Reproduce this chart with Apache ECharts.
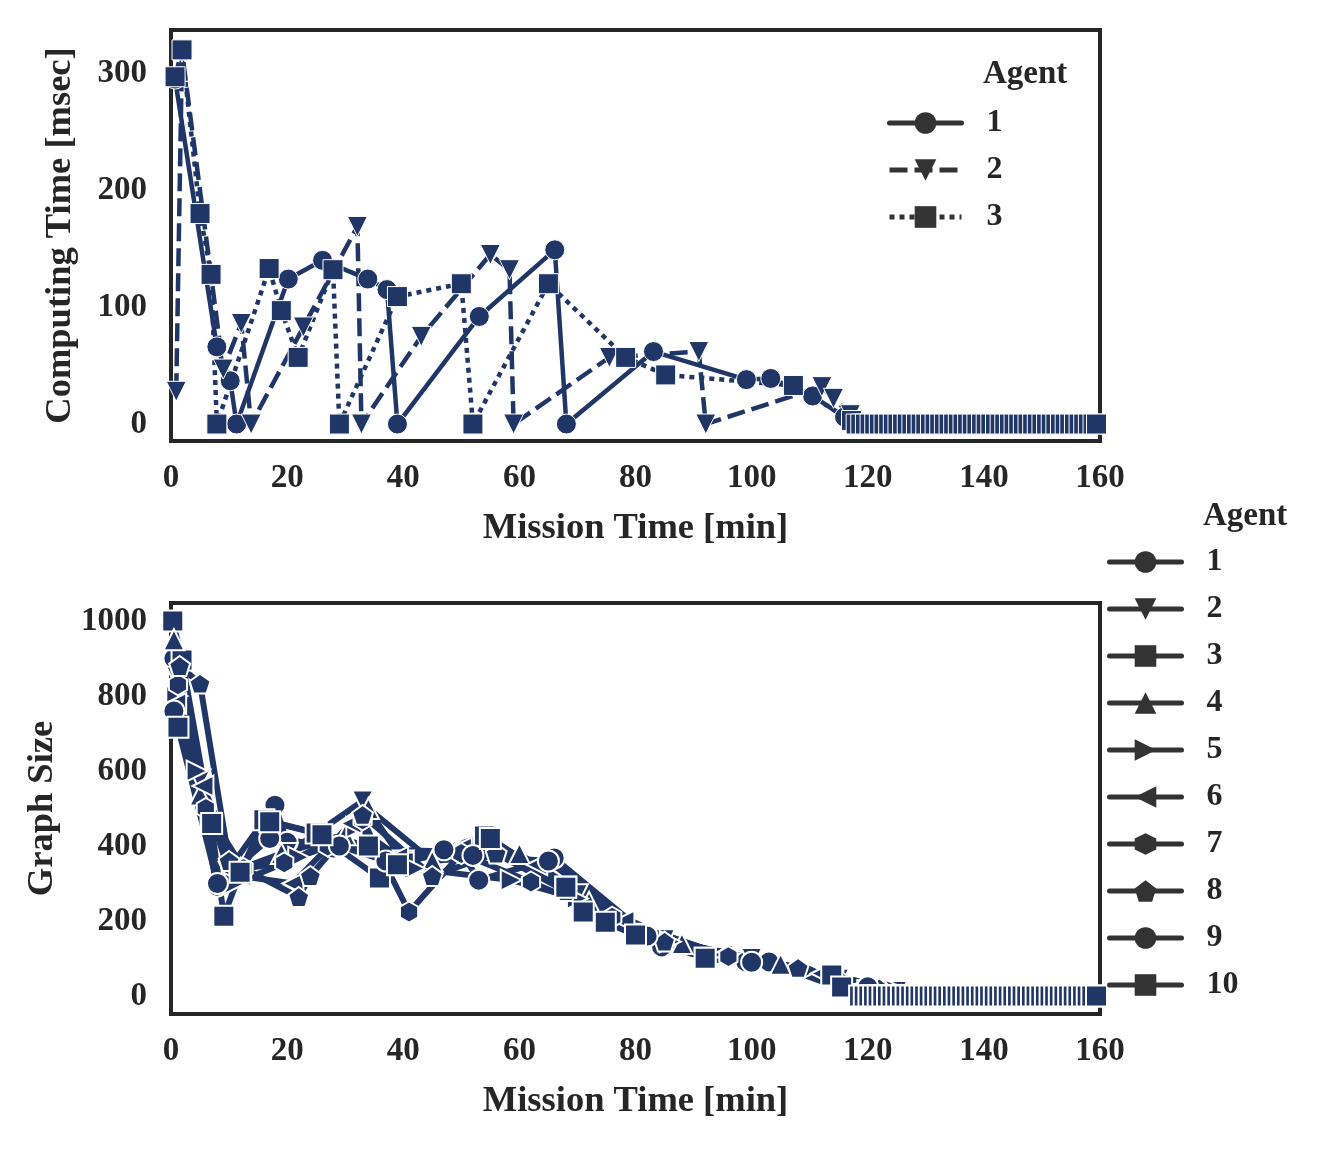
<!DOCTYPE html>
<html><head><meta charset="utf-8">
<script src="https://cdn.jsdelivr.net/npm/echarts@6/dist/echarts.min.js"></script>
<style>html,body{margin:0;padding:0;background:#fff}#c{width:1331px;height:1149px}</style>
</head><body><div id="c"></div>
<script>
// ---------- tick labels ----------
const xTickValues = [0, 20, 40, 60, 80, 100, 120, 140, 160];
const topYTickValues = [0, 100, 200, 300];
const bottomYTickValues = [0, 200, 400, 600, 800, 1000];

// ---------- top chart: computing time [msec] per agent ----------
const topAgents = ['1', '2', '3'];
const top1X = [0.7, 7.9, 10.2, 11.3, 20.2, 26.1, 33.9, 37.2, 39.0, 53.1, 66.1, 68.1, 83.1, 99.1, 103.3, 110.5, 116.0];
const top1Y = [295, 66, 37, 0, 124, 140, 124, 115, 0, 92, 149, 0, 62, 38, 39, 24, 6];
const top2X = [0.9, 1.9, 9.0, 12.1, 13.8, 22.8, 32.1, 32.8, 43.1, 55.0, 58.3, 59.0, 75.5, 90.9, 92.1, 112.1, 114.1, 117.0];
const top2Y = [28, 318, 47, 86, 0, 83, 169, 0, 75, 145, 132, 0, 57, 62, 0, 32, 22, 8];
const top3X = [0.7, 1.9, 5.0, 6.9, 7.9, 16.9, 19.0, 21.9, 27.9, 29.0, 39.0, 50.0, 52.0, 65.0, 78.3, 85.2, 107.2, 117.2];
const top3Y = [297, 320, 180, 128, 0, 133, 97, 57, 132, 0, 109, 120, 0, 120, 57, 42, 33, 3];
// idle tail (value 0) sample times
const top1TailX = [118.2,119.0,119.8,120.6,121.4,122.2,123.0,123.8,124.6,125.4,126.2,127.0,127.8,128.6,129.4,130.2,131.0,131.8,132.6,133.4,134.2,135.0,135.8,136.6,137.4,138.2,139.0,139.8,140.6,141.4,142.2];
const top2TailX = [118.5,119.3,120.1,120.9,121.7,122.5,123.3,124.1,124.9,125.7,126.5,127.3,128.1,128.9,129.7,130.5,131.3,132.1,132.9,133.7,134.5,135.3,136.1,136.9,137.7,138.5,139.3,140.1,140.9,141.7,142.5,143.3];
const top3TailX = [118.0,118.8,119.6,120.4,121.2,122.0,122.8,123.6,124.4,125.2,126.0,126.8,127.6,128.4,129.2,130.0,130.8,131.6,132.4,133.2,134.0,134.8,135.6,136.4,137.2,138.0,138.8,139.6,140.4,141.2,142.0,142.8,143.6,144.4,145.2,146.0,146.8,147.6,148.4,149.2,150.0,150.8,151.6,152.4,153.2,154.0,154.8,155.6,156.4,157.2,158.0,158.8,159.4];
const tailValue = 0;

// ---------- bottom chart: graph size per agent ----------
const bottomAgents = ['1','2','3','4','5','6','7','8','9','10'];
const b1X = [0.5, 7.9, 17.9, 20.0, 28.0, 50.0, 53.0, 66.0, 84.5, 99.0, 103.0, 118.0];
const b1Y = [900, 293, 509, 410, 395, 384, 309, 368, 131, 91, 91, 5];
const b2X = [1.0, 5.0, 10.0, 20.0, 33.0, 40.0, 55.0, 70.0, 85.0, 100.0, 115.0, 125.0];
const b2Y = [850, 576, 330, 380, 520, 360, 400, 270, 150, 100, 45, 12];
const b3X = [0.3, 1.9, 6.9, 9.1, 11.9, 16.0, 25.0, 35.9, 40.0, 54.0, 68.0, 80.0, 92.0, 114.0, 120.0];
const b3Y = [1000, 896, 461, 213, 328, 470, 435, 315, 355, 427, 291, 165, 101, 53, 15];
const b4X = [0.5, 5.0, 12.0, 19.0, 30.0, 34.0, 45.0, 60.0, 72.0, 88.0, 105.0, 121.0];
const b4Y = [950, 536, 340, 380, 430, 500, 360, 380, 250, 140, 85, 28];
const b5X = [1.0, 4.5, 11.0, 22.0, 32.0, 42.0, 58.6, 70.0, 86.0, 110.0, 125.0];
const b5Y = [800, 600, 300, 370, 450, 340, 309, 260, 145, 70, 15];
const b6X = [0.8, 5.5, 12.0, 21.0, 31.0, 39.0, 50.0, 63.0, 78.0, 95.0, 112.0, 128.0];
const b6Y = [780, 560, 320, 300, 460, 370, 395, 350, 200, 110, 60, 8];
const b7X = [1.2, 6.0, 12.5, 19.5, 27.0, 33.0, 41.0, 50.0, 62.0, 76.0, 96.0, 115.0];
const b7Y = [830, 500, 340, 355, 400, 470, 224, 380, 304, 210, 105, 40];
const b8X = [1.5, 5.0, 10.0, 22.0, 24.0, 33.0, 45.0, 56.0, 68.0, 85.0, 108.0, 122.0];
const b8Y = [880, 833, 360, 264, 320, 483, 320, 380, 280, 145, 75, 20];
const b9X = [0.5, 8.0, 17.0, 29.0, 37.0, 47.0, 52.0, 65.0, 82.0, 100.0, 120.0];
const b9Y = [760, 300, 420, 400, 360, 390, 375, 360, 160, 90, 25];
const b10X = [1.2, 7.0, 11.9, 17.0, 26.0, 34.0, 39.0, 55.0, 68.0, 71.0, 74.8, 80.0, 92.0, 113.8, 115.5];
const b10Y = [717, 460, 330, 465, 430, 400, 350, 420, 290, 224, 197, 163, 101, 56, 24];
const bottomTailX = [118.6,119.4,120.2,121.0,121.8,122.6,123.4,124.2,125.0,125.8,126.6,127.4,128.2,129.0,129.8,130.6,131.4,132.2,133.0,133.8,134.6,135.4,136.2,137.0,137.8,138.6,139.4,140.2,141.0,141.8,142.6,143.4,144.2,145.0,145.8,146.6,147.4,148.2,149.0,149.8,150.6,151.4,152.2,153.0,153.8,154.6,155.4,156.2,157.0,157.8,158.6,159.4];
const bottomTailEnd = [135.5,135.5,135.5,135.5,135.5,135.5,135.5,135.5,135.5,159.4];

// ---------- styling ----------
const NAVY = '#1f3667';
const FONT = 'Liberation Serif';
const INK = '#262626';
const hexagon = 'path://M0,-100 L86.6,-50 L86.6,50 L0,100 L-86.6,50 L-86.6,-50 Z';
const pentagon = 'path://M0,-100 L95.1,-30.9 L58.8,80.9 L-58.8,80.9 L-95.1,-30.9 Z';

function pairs(xs, ys) { return xs.map((x, i) => [x, ys[i]]); }
function withTail(xs, ys, tailXs, endX) {
  const last = xs[xs.length - 1];
  return pairs(xs, ys).concat(tailXs.filter(t => t > last && t <= endX).map(t => [t, tailValue]));
}

const topData = [
  withTail(top1X, top1Y, top1TailX, 999),
  withTail(top2X, top2Y, top2TailX, 999),
  withTail(top3X, top3Y, top3TailX, 999)
];
const topSym = [['circle', 0], ['triangle', 180], ['rect', 0]];
const topDash = ['solid', [18, 7], [5, 5]];

const bXs = [b1X,b2X,b3X,b4X,b5X,b6X,b7X,b8X,b9X,b10X];
const bYs = [b1Y,b2Y,b3Y,b4Y,b5Y,b6Y,b7Y,b8Y,b9Y,b10Y];
const bSym = [['circle',0],['triangle',180],['rect',0],['triangle',0],['triangle',-90],['triangle',90],[hexagon,0],[pentagon,0],['circle',0],['rect',0]];

const series = [];
topAgents.forEach((a, i) => {
  series.push({
    name: 't' + a, type: 'line', xAxisIndex: 0, yAxisIndex: 0,
    data: topData[i], symbol: topSym[i][0], symbolRotate: topSym[i][1], symbolSize: 20,
    symbolKeepAspect: true, showAllSymbol: true,
    lineStyle: { color: NAVY, width: 4.5, type: topDash[i], join: 'round' },
    itemStyle: { color: NAVY, borderColor: '#fff', borderWidth: 1 },
    emphasis: { disabled: true }
  });
});
bottomAgents.forEach((a, i) => {
  series.push({
    name: 'b' + a, type: 'line', xAxisIndex: 1, yAxisIndex: 1,
    data: withTail(bXs[i], bYs[i], bottomTailX, bottomTailEnd[i]),
    symbol: bSym[i][0], symbolRotate: bSym[i][1], symbolSize: 21,
    symbolKeepAspect: true, showAllSymbol: true,
    lineStyle: { color: NAVY, width: 6, type: 'solid', join: 'round' },
    itemStyle: { color: NAVY, borderColor: '#fff', borderWidth: 2 },
    emphasis: { disabled: true }
  });
});

const tickLabel = { fontFamily: FONT, fontWeight: 'bold', fontSize: 33, color: INK, formatter: v => String(v) };
const axisName = { fontFamily: FONT, fontWeight: 'bold', fontSize: 36.5, color: INK };

function xAxis(gridIndex) {
  return {
    type: 'value', gridIndex, min: 0, max: 160, interval: 20,
    axisLine: { show: false }, axisTick: { show: false }, splitLine: { show: false },
    axisLabel: Object.assign({ margin: 21, customValues: xTickValues }, tickLabel),
    name: 'Mission Time [min]', nameLocation: 'middle', nameGap: 69, nameTextStyle: axisName
  };
}
function yAxis(gridIndex, min, max, ticks, name, gap) {
  return {
    type: 'value', gridIndex, min, max,
    axisLine: { show: false }, axisTick: { show: false }, splitLine: { show: false },
    axisLabel: Object.assign({ margin: 24, customValues: ticks }, tickLabel),
    name, nameLocation: 'middle', nameGap: gap, nameRotate: 90, nameTextStyle: axisName
  };
}

function legendBase(names, left, top) {
  return {
    orient: 'vertical', left, top, itemWidth: 72, itemHeight: 27, itemGap: 15,
    data: names,
    formatter: n => n.slice(1),
    selectedMode: false,
    textStyle: { fontFamily: FONT, fontWeight: 'bold', fontSize: 32, color: INK, padding: [0, 0, 0, 20] },
    itemStyle: { color: '#333', borderWidth: 0 },
    lineStyle: { color: '#333', width: 5 }
  };
}

const option = {
  animation: false,
  backgroundColor: '#fff',
  grid: [
    { left: 171, top: 30, width: 929, height: 411, show: true, borderColor: INK, borderWidth: 4, backgroundColor: 'transparent' },
    { left: 171, top: 603, width: 929, height: 411, show: true, borderColor: INK, borderWidth: 4, backgroundColor: 'transparent' }
  ],
  xAxis: [xAxis(0), xAxis(1)],
  yAxis: [
    yAxis(0, -14.5, 337, topYTickValues, 'Computing Time [msec]', 92),
    yAxis(1, -48, 1048, bottomYTickValues, 'Graph Size', 110)
  ],
  legend: [
    legendBase([{ name: 't1', lineStyle: { cap: 'round' } }, { name: 't2' }, { name: 't3' }], 882, 102),
    legendBase(bottomAgents.map(a => ({ name: 'b' + a, lineStyle: { cap: 'round' } })), 1102, 541)
  ],
  graphic: [
    { type: 'text', left: 983, top: 58, style: { text: 'Agent', font: 'bold 33px "Liberation Serif"', fill: INK } },
    { type: 'text', left: 1203, top: 500, style: { text: 'Agent', font: 'bold 33px "Liberation Serif"', fill: INK } }
  ],
  series
};
const chart = echarts.init(document.getElementById('c'), null, { renderer: 'canvas' });
chart.setOption(option);
</script></body></html>
